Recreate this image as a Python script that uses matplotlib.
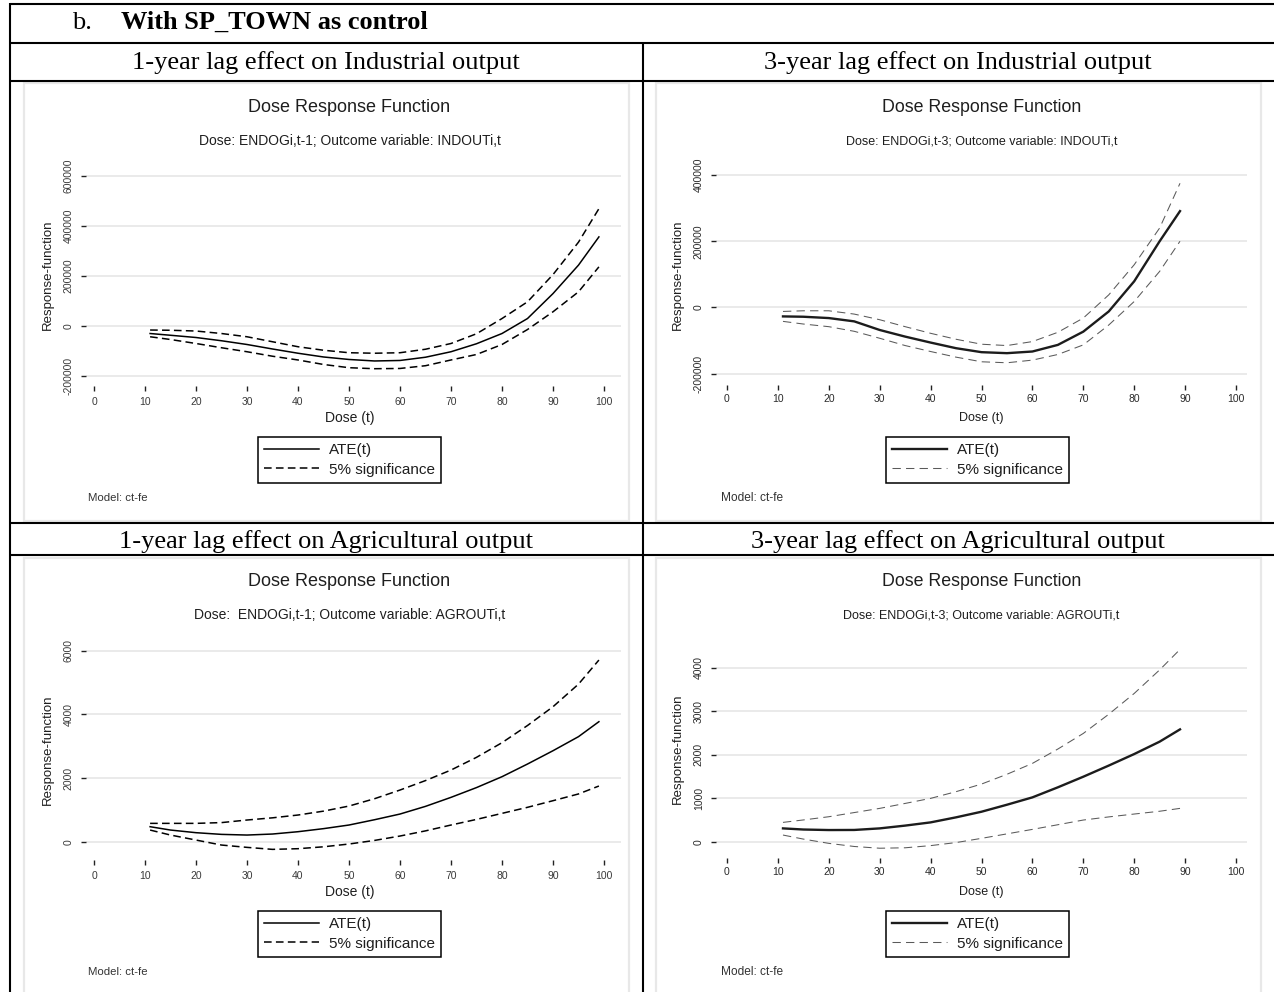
import matplotlib
matplotlib.use("Agg")
import matplotlib.pyplot as plt
from matplotlib.lines import Line2D
from matplotlib.patches import Rectangle

W, H = 1274, 992

# ---- data ----
dose_ind1 = [11, 15, 20, 25, 30, 35, 40, 45, 50, 55, 60, 65, 70, 75, 80, 85, 90, 95, 99]
ate_ind1 = [-31000, -38000, -47000, -60000, -75000, -93000, -110000, -125000, -135000, -141000,
            -139000, -126000, -104000, -72000, -31000, 29000, 129000, 243000, 356000]
up_ind1 = [-17000, -18000, -21000, -31000, -44000, -64000, -84000, -98000, -108000, -110000,
           -108000, -94000, -71000, -32000, 29000, 96000, 205000, 335000, 469000]
lo_ind1 = [-44000, -55000, -71000, -88000, -104000, -122000, -137000, -155000, -168000, -172000,
           -171000, -160000, -137000, -115000, -75000, -15000, 56000, 136000, 236000]

dose_ind3 = [11, 15, 20, 25, 30, 35, 40, 45, 50, 55, 60, 65, 70, 75, 80, 85, 89]
ate_ind3 = [-27000, -28000, -32000, -42000, -68000, -88000, -106000, -123000, -135000, -138000,
            -133000, -113000, -73000, -12000, 79000, 200000, 291000]
up_ind3 = [-12000, -10000, -10000, -20000, -37000, -58000, -78000, -96000, -111000, -115000,
           -103000, -75000, -32000, 38000, 129000, 240000, 375000]
lo_ind3 = [-42000, -50000, -58000, -72000, -93000, -115000, -133000, -150000, -164000, -167000,
           -159000, -142000, -113000, -53000, 18000, 109000, 200000]

dose_agr1 = [11, 15, 20, 25, 30, 35, 40, 45, 50, 55, 60, 65, 70, 75, 80, 85, 90, 95, 99]
ate_agr1 = [471, 366, 283, 230, 209, 241, 314, 410, 524, 690, 869, 1110, 1393, 1700, 2042,
            2440, 2858, 3300, 3770]
up_agr1 = [576, 576, 576, 600, 681, 750, 838, 960, 1120, 1350, 1623, 1920, 2251, 2650, 3110,
           3650, 4240, 4950, 5706]
lo_agr1 = [366, 209, 52, -105, -178, -241, -220, -160, -73, 40, 178, 340, 524, 700, 890,
           1080, 1288, 1500, 1749]

dose_agr3 = [11, 15, 20, 25, 30, 35, 40, 45, 50, 55, 60, 65, 70, 75, 80, 85, 89]
ate_agr3 = [306, 280, 268, 270, 306, 370, 444, 560, 689, 850, 1019, 1250, 1494, 1750, 2015,
            2300, 2582]
up_agr3 = [444, 500, 574, 670, 766, 880, 996, 1150, 1325, 1550, 1800, 2130, 2489, 2930, 3408,
           3950, 4420]
lo_agr3 = [153, 60, -38, -110, -150, -140, -90, -20, 77, 180, 283, 390, 498, 570, 636, 700, 766]

xticks = [0, 10, 20, 30, 40, 50, 60, 70, 80, 90, 100]
yticks_ind1 = [-200000, 0, 200000, 400000, 600000]
yticks_ind3 = [-200000, 0, 200000, 400000]
yticks_agr1 = [0, 2000, 4000, 6000]
yticks_agr3 = [0, 1000, 2000, 3000, 4000]

row_titles = ["1-year lag effect on Industrial output", "3-year lag effect on Industrial output",
              "1-year lag effect on Agricultural output", "3-year lag effect on Agricultural output"]
subtitles = ["Dose: ENDOGi,t-1; Outcome variable: INDOUTi,t",
             "Dose: ENDOGi,t-3; Outcome variable: INDOUTi,t",
             "Dose:  ENDOGi,t-1; Outcome variable: AGROUTi,t",
             "Dose: ENDOGi,t-3; Outcome variable: AGROUTi,t"]

plt.rcParams['font.family'] = ['Liberation Sans', 'DejaVu Sans']
SERIF = ['Liberation Serif', 'DejaVu Serif']


def fx(px):
    return px / W


def fy(py):
    return 1 - py / H


def rule(fig, x0, y0, x1, y1, lw=1.5):
    fig.add_artist(Line2D([fx(x0), fx(x1)], [fy(y0), fy(y1)], color='black', lw=lw,
                          transform=fig.transFigure, solid_capstyle='butt'))


# left graphs are stretched, lower-res exports; right ones are crisper
STYLE_L = dict(ate_c='black', ate_lw=1.1, ci_c='black', ci_lw=1.1, ci_ls=(0, (5, 2.8)),
               txt='#3a3a3a', tickpad=4.5, sub=10, xlab=10, ylab=9.5, model=8.2,
               title=13, dx=-4, mx=2)
STYLE_R = dict(ate_c='#1c1c1c', ate_lw=1.7, ci_c='#5a5a5a', ci_lw=0.75, ci_ls=(0, (8, 5)),
               txt='#2a2a2a', tickpad=3.0, sub=9, xlab=9, ylab=9.5, model=8.6,
               title=12.8, dx=0, mx=5)


def panel(fig, box, axbox, xref, yref, dose, ate, up, lo, yticks, subtitle, st, dy):
    l, t, r, b = box
    fig.add_artist(Rectangle((fx(l), fy(b)), fx(r) - fx(l), fy(t) - fy(b),
                             transform=fig.transFigure, facecolor='white',
                             edgecolor='#e8e8e8', lw=1.6, zorder=0))
    al, at, ar, ab = axbox
    ax = fig.add_axes([fx(al), fy(ab), fx(ar) - fx(al), fy(at) - fy(ab)])
    ax.set_facecolor('none')
    x0, x100 = xref
    ax.set_xlim((al - x0) / (x100 - x0) * 100, (ar - x0) / (x100 - x0) * 100)
    (p1, v1), (p2, v2) = yref
    s = (v2 - v1) / (p2 - p1)
    ax.set_ylim(v1 + (ab - p1) * s, v1 + (at - p1) * s)

    ax.plot(dose, up, color=st['ci_c'], lw=st['ci_lw'], linestyle=st['ci_ls'])
    ax.plot(dose, lo, color=st['ci_c'], lw=st['ci_lw'], linestyle=st['ci_ls'])
    ax.plot(dose, ate, color=st['ate_c'], lw=st['ate_lw'])

    for sp in ax.spines.values():
        sp.set_visible(False)
    ax.grid(axis='y', color='#e6e6e6', lw=1.2)
    ax.set_axisbelow(True)
    ax.set_xticks(xticks)
    ax.set_xticklabels([str(v) for v in xticks], fontsize=7.5, color=st['txt'])
    ax.set_yticks(yticks)
    ax.set_yticklabels([str(v) for v in yticks], fontsize=7.5, color=st['txt'],
                       rotation=90, va='center', ha='right')
    ax.tick_params(axis='x', length=3.5, width=1.0, color='#222222', pad=st['tickpad'])
    ax.tick_params(axis='y', length=3.8, width=1.0, color='#222222', pad=5)

    cx = (al + ar) / 2 + st['dx']
    fig.text(fx(cx), fy(108 + dy), 'Dose Response Function', ha='center', va='center',
             fontsize=st['title'], color='#1e1e1e')
    fig.text(fx(cx), fy(141 + dy), subtitle, ha='center', va='center', fontsize=st['sub'],
             color='#1e1e1e')
    fig.text(fx(cx), fy(418 + dy), 'Dose (t)', ha='center', va='center', fontsize=st['xlab'],
             color='#1e1e1e')
    fig.text(fx(al - 38), fy((at + ab) / 2 + 2), 'Response-function', ha='center',
             va='center', rotation=90, fontsize=st['ylab'], color='#1e1e1e')
    fig.text(fx(al + st['mx']), fy(498 + dy), 'Model: ct-fe', ha='left', va='center',
             fontsize=st['model'], color='#333333')

    h1 = Line2D([], [], color=st['ate_c'], lw=st['ate_lw'])
    h2 = Line2D([], [], color=st['ci_c'], lw=st['ci_lw'], linestyle=st['ci_ls'])
    leg = ax.legend([h1, h2], ['ATE(t)', '5% significance'], loc='center',
                    bbox_to_anchor=(fx((al + ar) / 2 - 4), fy(460 + dy)),
                    bbox_transform=fig.transFigure,
                    frameon=True, fancybox=False, edgecolor='black', framealpha=1,
                    fontsize=11, handlelength=3.6, handletextpad=0.6, labelspacing=0.35,
                    borderpad=0.4, borderaxespad=0)
    leg.get_frame().set_linewidth(1.1)
    for txt in leg.get_texts():
        txt.set_color('#1e1e1e')
    return ax


fig = plt.figure(figsize=(W / 100, H / 100), dpi=100)
fig.patch.set_facecolor('white')

# table rules
for y in (4, 43, 81, 522.5, 555):
    rule(fig, 10, y, W, y)
rule(fig, 10, 3, 10, H)
rule(fig, 642.5, 43, 642.5, H)

fig.text(fx(72), fy(29), 'b.', family=SERIF, fontsize=19, va='baseline', ha='left')
fig.text(fx(121), fy(29), 'With SP_TOWN as control', family=SERIF, fontsize=19,
         fontweight='bold', va='baseline', ha='left')
fig.text(fx(326), fy(69), row_titles[0], family=SERIF, fontsize=19, va='baseline', ha='center')
fig.text(fx(958), fy(69), row_titles[1], family=SERIF, fontsize=19, va='baseline', ha='center')
fig.text(fx(326), fy(548), row_titles[2], family=SERIF, fontsize=19, va='baseline', ha='center')
fig.text(fx(958), fy(548), row_titles[3], family=SERIF, fontsize=19, va='baseline', ha='center')

panel(fig, (24, 83, 629, 521), (86, 160, 621, 386), (94, 604),
      ((176, 600000), (375.7, -200000)), dose_ind1, ate_ind1, up_ind1, lo_ind1,
      yticks_ind1, subtitles[0], STYLE_L, 0)
panel(fig, (656, 83, 1261, 521), (716, 160, 1247, 385), (727, 1236),
      ((175, 400000), (373.7, -200000)), dose_ind3, ate_ind3, up_ind3, lo_ind3,
      yticks_ind3, subtitles[1], STYLE_R, 0)
panel(fig, (24, 558, 629, 1000), (86, 635, 621, 860), (94, 604),
      ((650.7, 6000), (841.7, 0)), dose_agr1, ate_agr1, up_agr1, lo_agr1,
      yticks_agr1, subtitles[2], STYLE_L, 474)
panel(fig, (656, 558, 1261, 1000), (716, 635, 1247, 858), (727, 1236),
      ((667.7, 4000), (841.7, 0)), dose_agr3, ate_agr3, up_agr3, lo_agr3,
      yticks_agr3, subtitles[3], STYLE_R, 474)

fig.savefig('out.png', dpi=100)
